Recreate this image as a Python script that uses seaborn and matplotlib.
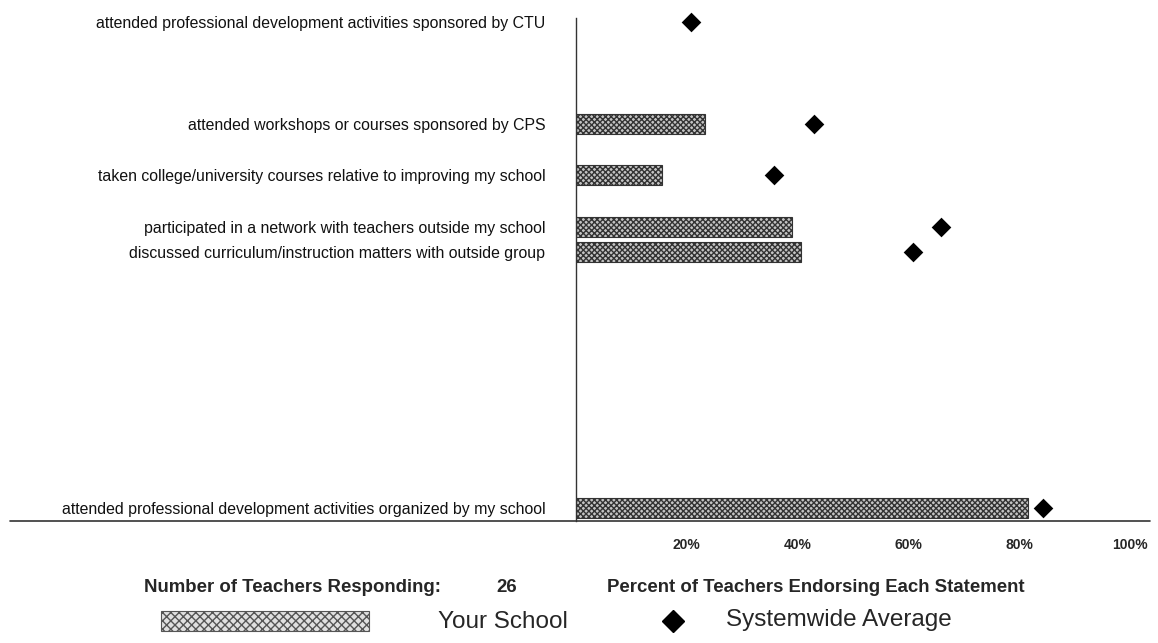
import matplotlib
matplotlib.use("Agg")
import matplotlib.pyplot as plt
import seaborn as sns
import pandas as pd
import numpy as np
from matplotlib.lines import Line2D
from matplotlib.patches import Rectangle

# ---- data ----
statements = [
    "attended professional development activities sponsored by CTU",
    "attended workshops or courses sponsored by CPS",
    "taken college/university courses relative to improving my school",
    "participated in a network with teachers outside my school",
    "discussed curriculum/instruction matters with outside group",
    "attended professional development activities organized by my school",
]
your_school = [np.nan, 23.3, 15.5, 39.0, 40.6, 81.6]
systemwide = [20.8, 43.0, 35.8, 65.9, 60.8, 84.3]
tick_values = [20, 40, 60, 80, 100]
tick_labels = ["20%", "40%", "60%", "80%", "100%"]
n_teachers = 26

# layout: slot of each statement on a 20-slot categorical axis
row_slot = [0, 4, 6, 8, 9, 19]
n_slots = 20

sns.set_theme(style="white")
plt.rcParams["font.family"] = ["Liberation Sans", "DejaVu Sans"]
plt.rcParams["hatch.color"] = "#2e2e2e"
plt.rcParams["hatch.linewidth"] = 1.0

order = [" " * (i + 1) for i in range(n_slots)]
for s, lab in zip(row_slot, statements):
    order[s] = lab

df = pd.DataFrame({"statement": statements,
                   "your_school": your_school,
                   "systemwide": systemwide})

fig = plt.figure(figsize=(11.58, 6.43), dpi=100)
W, H = 1158, 643
ax = fig.add_axes([576 / W, (H - 521) / H, (1150 - 576) / W, (521 - 18) / H])

sns.barplot(data=df.dropna(subset=["your_school"]), x="your_school", y="statement",
            order=order, orient="h", width=0.78, color="#c4c4c4",
            edgecolor="#333333", linewidth=0.8, ax=ax)
for p in ax.patches:
    p.set_hatch("xxxxxx")

sns.stripplot(data=df, x="systemwide", y="statement", order=order, orient="h",
              jitter=False, marker="D", size=10, color="black", ax=ax)
for coll in ax.collections:
    coll.set_clip_on(False)

ax.set_xlim(0, (1150 - 576) / 5.54)
ax.set_ylim(n_slots - 0.5, -0.15)
ax.set_xticks(tick_values)
ax.set_xticklabels(tick_labels, fontsize=10, fontweight="bold")
ax.tick_params(axis="x", length=0, pad=12)
ax.tick_params(axis="y", length=0, pad=22, labelsize=11.4)
for t in ax.get_yticklabels():
    t.set_color("#111111")
ax.set_xlabel("")
ax.set_ylabel("")
for side in ["top", "right", "bottom"]:
    ax.spines[side].set_visible(False)
ax.spines["left"].set_color("#333333")
ax.spines["left"].set_linewidth(1.0)
if ax.get_legend():
    ax.get_legend().remove()

# long baseline across the figure
fig.add_artist(Line2D([10 / W, 1150 / W], [(H - 521) / H] * 2,
                      transform=fig.transFigure, color="#333333", lw=1.2))

# bottom annotations
fig.text(293 / W, (H - 588) / H, "Number of Teachers Responding:", fontsize=13.4,
         fontweight="bold", va="center", ha="center")
fig.text(507 / W, (H - 588) / H, str(n_teachers), fontsize=13.4,
         fontweight="bold", va="center", ha="center")
fig.text(816 / W, (H - 588) / H, "Percent of Teachers Endorsing Each Statement",
         fontsize=13.4, fontweight="bold", va="center", ha="center")

# legend
rect = Rectangle((161 / W, (H - 631) / H), 208 / W, 20 / H, transform=fig.transFigure,
                 facecolor="#e0e0e0", edgecolor="#555555", lw=0.8, hatch="xxxx")
fig.add_artist(rect)
fig.text(438 / W, (H - 622) / H, "Your School", fontsize=17.5, va="center", ha="left")
fig.add_artist(Line2D([673 / W], [(H - 621) / H], transform=fig.transFigure,
                      marker="D", markersize=11, color="black", linestyle="none"))
fig.text(726 / W, (H - 620) / H, "Systemwide Average", fontsize=17.5, va="center", ha="left")

fig.savefig("out.png", dpi=100)
